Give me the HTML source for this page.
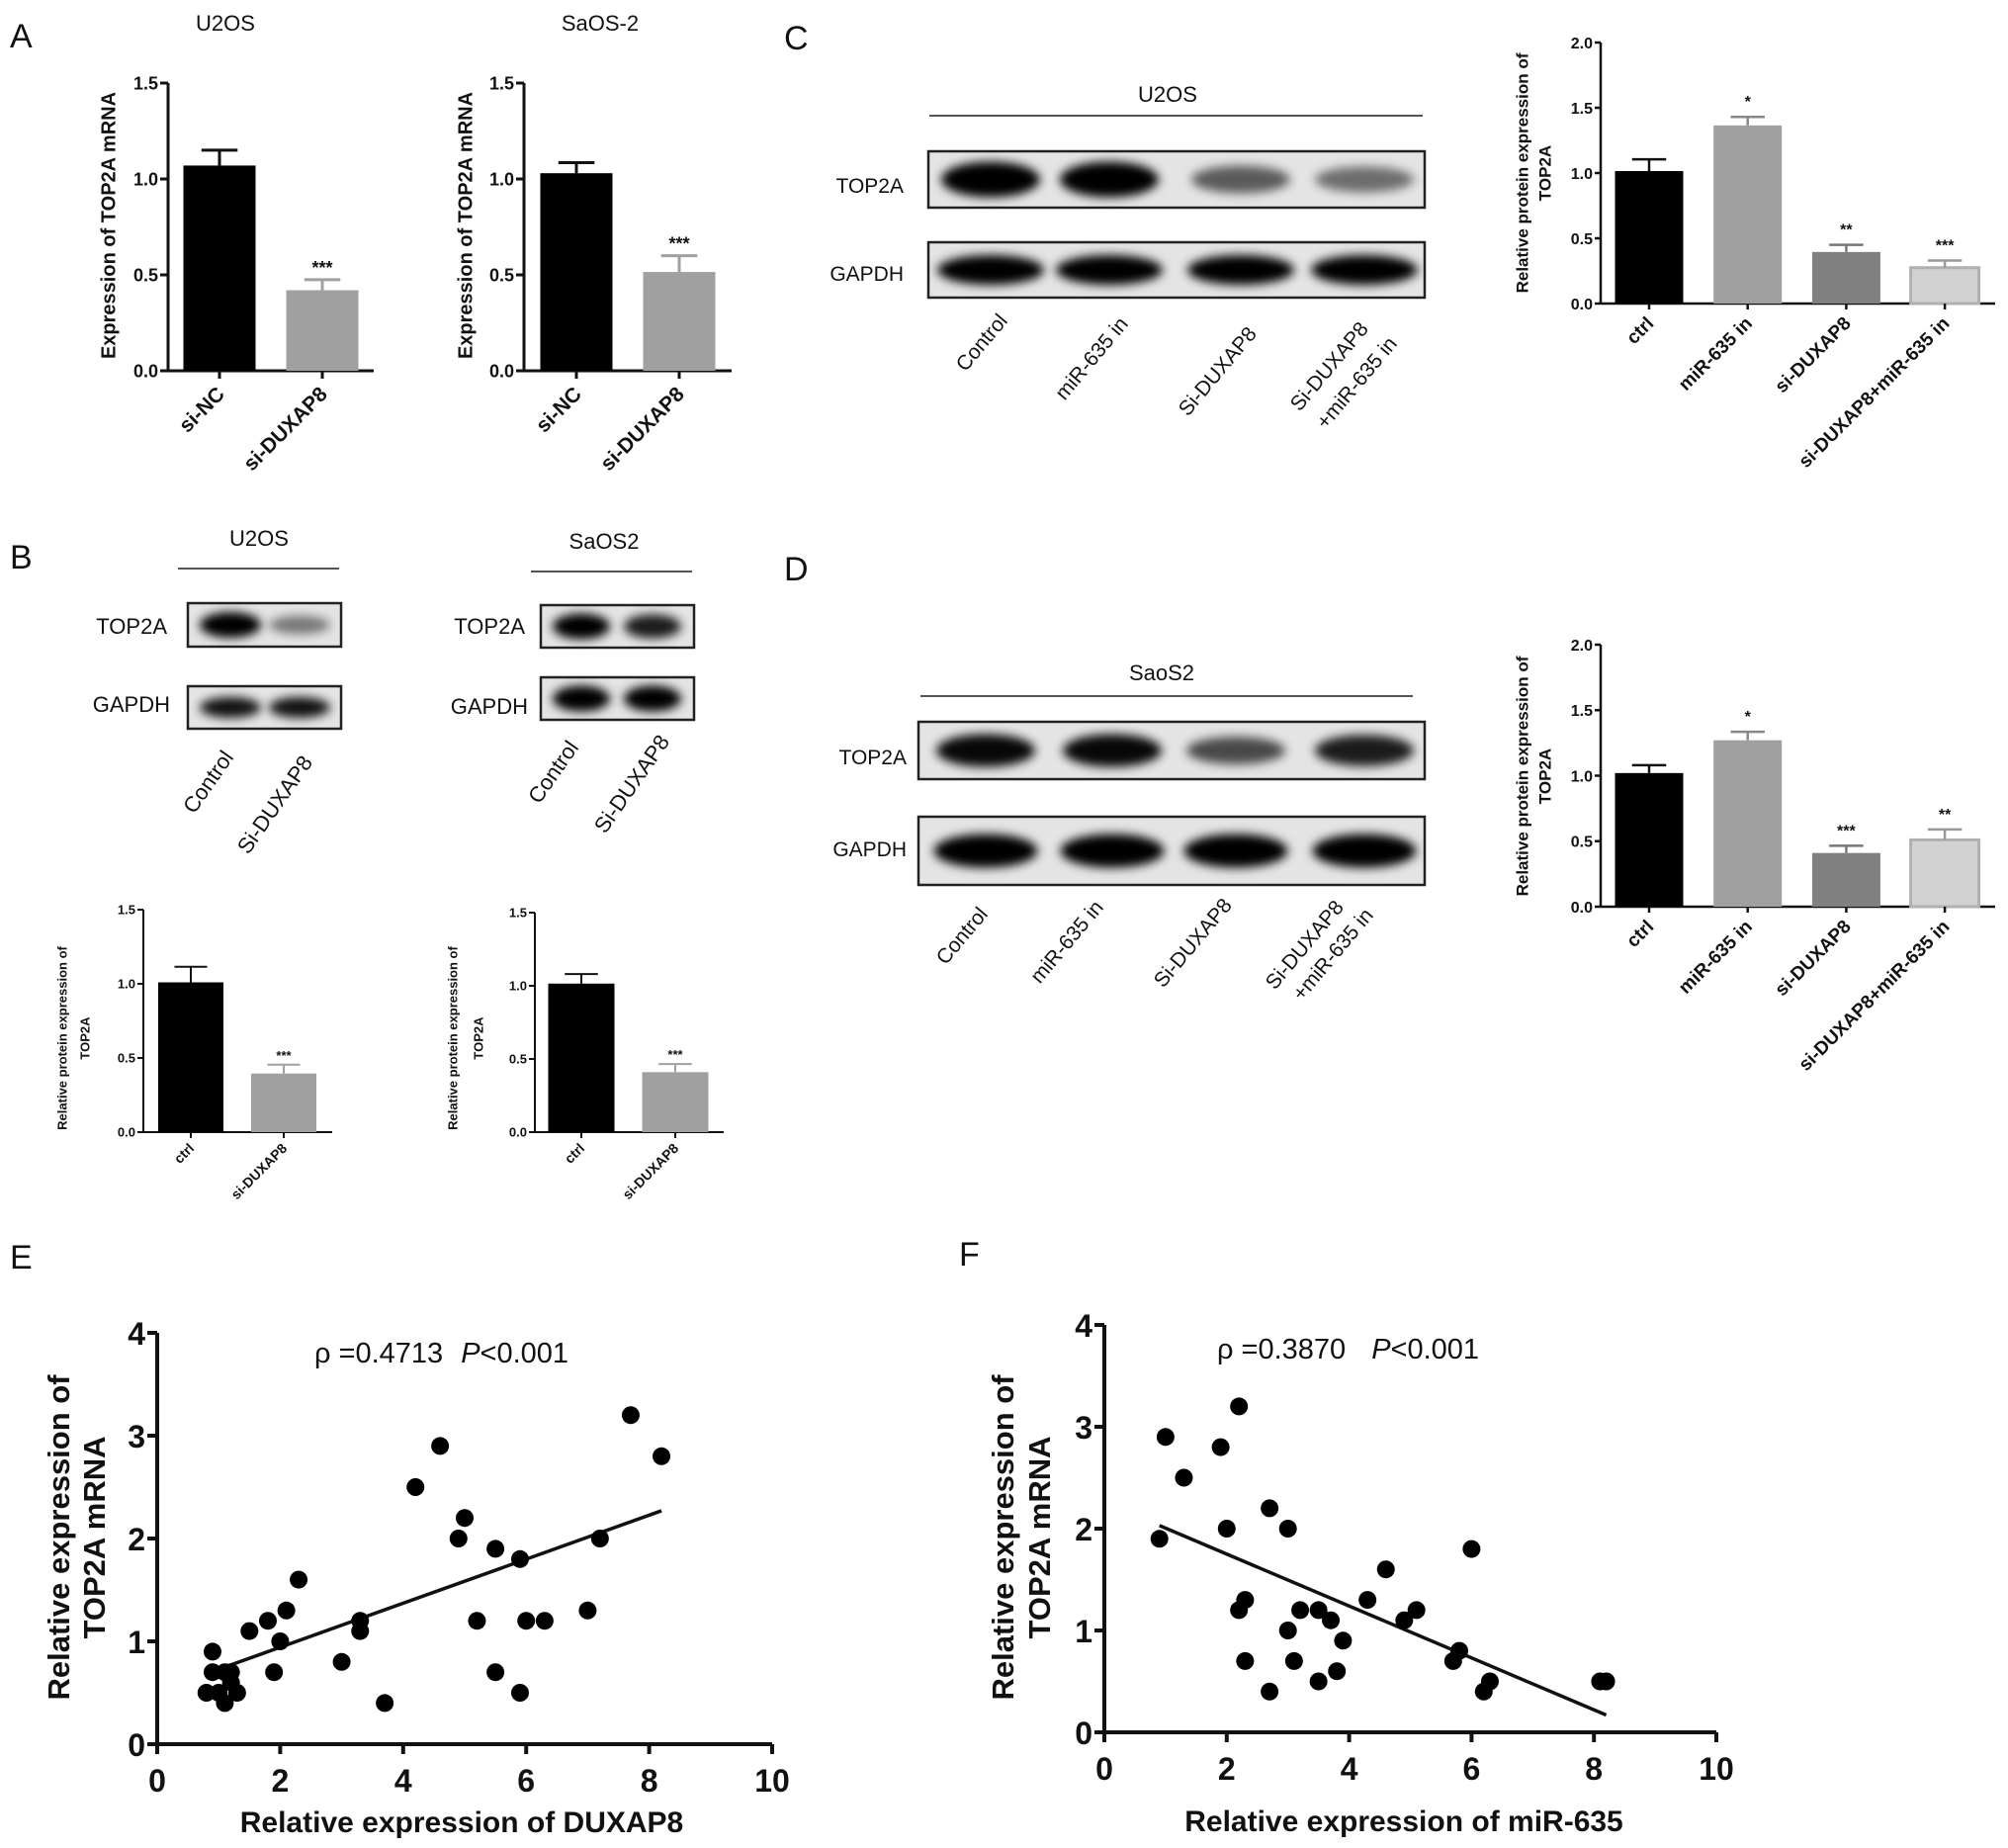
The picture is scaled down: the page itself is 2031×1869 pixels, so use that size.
<!DOCTYPE html>
<html><head><meta charset="utf-8"><style>
html,body{margin:0;padding:0;background:#fff}
svg{display:block}
text{font-family:"Liberation Sans",Arial,sans-serif;fill:#111}
.b{font-weight:bold}
</style></head><body>
<svg id="fig" xmlns="http://www.w3.org/2000/svg" width="2031" height="1869" viewBox="0 0 2031 1869">
<defs>
<filter id="bl" x="-30%" y="-60%" width="160%" height="220%"><feGaussianBlur stdDeviation="5"/></filter>
</defs>
<text x="10" y="48" font-size="34">A</text>
<text x="10" y="575" font-size="34">B</text>
<text x="793" y="50" font-size="34">C</text>
<text x="793" y="587" font-size="34">D</text>
<text x="10" y="1283" font-size="34">E</text>
<text x="970" y="1280" font-size="34">F</text>
<text x="228" y="31" font-size="22" text-anchor="middle">U2OS</text>
<text x="607" y="31" font-size="22" text-anchor="middle">SaOS-2</text>
<g id="root"></g>
</svg>
<script>
// ---- Panel A data ----
const aCats = ["si-NC", "si-DUXAP8"];
const a1Vals = [1.07, 0.42];
const a1Errs = [0.08, 0.055];
const a1Stars = ["", "***"];
const a2Vals = [1.03, 0.515];
const a2Errs = [0.055, 0.085];
const a2Stars = ["", "***"];
const aTicks = [0, 0.5, 1.0, 1.5];
// ---- Panel B data ----
const bCats = ["ctrl", "si-DUXAP8"];
const b1Vals = [1.01, 0.395];
const b1Errs = [0.105, 0.06];
const b2Vals = [1.015, 0.41];
const b2Errs = [0.065, 0.055];
const bStars = ["", "***"];
// ---- Panel C/D data ----
const cdCats = ["ctrl", "miR-635 in", "si-DUXAP8", "si-DUXAP8+miR-635 in"];
const cVals = [1.015, 1.365, 0.395, 0.275];
const cErrs = [0.09, 0.065, 0.055, 0.055];
const cStars = ["", "*", "**", "***"];
const dVals = [1.02, 1.27, 0.41, 0.51];
const dErrs = [0.06, 0.065, 0.055, 0.08];
const dStars = ["", "*", "***", "**"];
const cdTicks = [0, 0.5, 1.0, 1.5, 2.0];
// ---- Blot data (band intensity 0..1) ----
const blotB1Top = [1.0, 0.35];
const blotB1Gapdh = [0.9, 0.9];
const blotB2Top = [1.0, 0.85];
const blotB2Gapdh = [1.0, 1.0];
const blotCTop = [1.0, 1.0, 0.5, 0.4];
const blotCGapdh = [1.0, 1.0, 1.0, 1.0];
const blotDTop = [0.95, 0.95, 0.6, 0.85];
const blotDGapdh = [1.0, 1.0, 1.0, 1.0];
// ---- Panel E data ----
const eX = [0.8,0.9,0.9,1.0,1.1,1.1,1.2,1.2,1.3,1.5,1.8,1.9,2.0,2.1,2.3,3.0,3.3,3.3,3.7,4.2,4.6,4.9,5.0,5.2,5.5,5.5,5.9,5.9,6.0,6.3,7.0,7.2,7.7,8.2];
const eY = [0.5,0.9,0.7,0.5,0.4,0.7,0.7,0.6,0.5,1.1,1.2,0.7,1.0,1.3,1.6,0.8,1.2,1.1,0.4,2.5,2.9,2.0,2.2,1.2,1.9,0.7,1.8,0.5,1.2,1.2,1.3,2.0,3.2,2.8];
const eFitX = [1.1, 8.2];
const eFitY = [0.75, 2.27];
// ---- Panel F data ----
const fX = [0.9,1.0,1.3,1.9,2.0,2.2,2.2,2.3,2.3,2.7,2.7,3.0,3.0,3.1,3.2,3.5,3.5,3.7,3.8,3.9,4.3,4.6,4.9,5.1,5.7,5.8,6.0,6.2,6.3,8.1,8.2];
const fY = [1.9,2.9,2.5,2.8,2.0,3.2,1.2,1.3,0.7,2.2,0.4,2.0,1.0,0.7,1.2,1.2,0.5,1.1,0.6,0.9,1.3,1.6,1.1,1.2,0.7,0.8,1.8,0.4,0.5,0.5,0.5];
const fFitX = [0.9, 8.2];
const fFitY = [2.03, 0.17];
const scTicksX = [0, 2, 4, 6, 8, 10];
const scTicksY = [0, 1, 2, 3, 4];

const NS = "http://www.w3.org/2000/svg";
const root = document.getElementById("root");
function mk(tag, attrs, parent, txt) {
  const el = document.createElementNS(NS, tag);
  for (const k in attrs) el.setAttribute(k, attrs[k]);
  if (txt !== undefined) el.textContent = txt;
  (parent || root).appendChild(el);
  return el;
}

function barChart(c) {
  const g = mk("g", {});
  
  
  const ys = v => c.y0 - (v / c.max) * (c.y0 - c.yTop);
  const xs = i => c.first + i * c.step;
  const ya = mk("line", {x1: c.ax, y1: c.yTop, x2: c.ax, y2: c.y0 + 1, stroke: "#111", "stroke-width": c.sw}, g);
  
  
  const xa = mk("line", {x1: c.ax, y1: c.y0, x2: c.end, y2: c.y0, stroke: "#111", "stroke-width": c.sw}, g);
  
  
  c.ticks.forEach(t => {
    const y = ys(t);
    mk("line", {x1: c.ax - c.tl, y1: y, x2: c.ax, y2: y, stroke: "#111", "stroke-width": c.sw}, g);
    const tx = mk("text", {x: c.ax - c.tl - 2, y: y + c.tf * 0.36, "font-size": c.tf, "text-anchor": "end", class: "b"}, g, t.toFixed(1));
    
    
  });
  c.vals.forEach((v, i) => {
    const cx = xs(i);
    const top = ys(v);
    const r = mk("rect", {x: cx - c.bw / 2, y: top, width: c.bw, height: c.y0 - top, fill: c.colors[i], stroke: c.strokes ? c.strokes[i] : "none", "stroke-width": 3}, g);
    
    
    const et = ys(v + c.errs[i]);
    const ec = c.colors[i] === "#000" ? "#111" : c.ecol[i];
    mk("line", {x1: cx, y1: top, x2: cx, y2: et, stroke: ec, "stroke-width": c.sw}, g);
    mk("line", {x1: cx - c.bw * 0.25, y1: et, x2: cx + c.bw * 0.25, y2: et, stroke: ec, "stroke-width": c.sw}, g);
    mk("line", {x1: cx, y1: c.y0, x2: cx, y2: c.y0 + c.tl, stroke: "#111", "stroke-width": c.sw}, g);
    if (c.stars[i]) {
      const s = mk("text", {x: cx, y: et - c.starGap, "font-size": c.sf, "text-anchor": "middle", class: "b", fill: "#333"}, g, c.stars[i]);
      
      
    }
    const lx = cx + c.lf * 0.3, ly = c.y0 + c.tl + c.lf * 0.8;
    const lab = mk("text", {x: lx, y: ly, "font-size": c.lf, "text-anchor": "end", class: "b", transform: `rotate(-45 ${lx} ${ly})`}, g, c.cats[i]);
    
    
  });
  c.ylab.forEach((t, k) => {
    const x = c.ylx[k], y = c.yly;
    const yl = mk("text", {x: x, y: y, "font-size": c.yf, "text-anchor": "middle", class: "b", transform: `rotate(-90 ${x} ${y})`, "dominant-baseline": "middle"}, g, t);
    
    
  });
}

const BLK = "#000", G1 = "#a0a0a0", G2 = "#808080", G3 = "#d2d2d2";
barChart({name: "chart-a-u2os", ax: 170, y0: 375, yTop: 84, max: 1.5, ticks: aTicks, first: 222, step: 104, bw: 73, end: 378,
  vals: a1Vals, errs: a1Errs, stars: a1Stars, cats: aCats, colors: [BLK, G1], ecol: ["#111", G1], sw: 3, tl: 8, tf: 18, sf: 18, starGap: 6, lf: 21,
  ylab: ["Expression of TOP2A mRNA"], ylx: [111], yly: 228, yf: 20});
barChart({name: "chart-a-saos2", ax: 530, y0: 375, yTop: 84, max: 1.5, ticks: aTicks, first: 583, step: 104, bw: 73, end: 740,
  vals: a2Vals, errs: a2Errs, stars: a2Stars, cats: aCats, colors: [BLK, G1], ecol: ["#111", G1], sw: 3, tl: 8, tf: 18, sf: 18, starGap: 6, lf: 21,
  ylab: ["Expression of TOP2A mRNA"], ylx: [472], yly: 228, yf: 20});
barChart({name: "chart-b-u2os", ax: 145, y0: 1145, yTop: 920, max: 1.5, ticks: aTicks, first: 193, step: 94, bw: 66, end: 336,
  vals: b1Vals, errs: b1Errs, stars: bStars, cats: bCats, colors: [BLK, G1], ecol: ["#111", G1], sw: 2, tl: 6, tf: 13, sf: 13, starGap: 5, lf: 14,
  ylab: ["Relative protein expression of", "TOP2A"], ylx: [64, 87], yly: 1050, yf: 13});
barChart({name: "chart-b-saos2", ax: 541, y0: 1145, yTop: 923, max: 1.5, ticks: aTicks, first: 588, step: 95, bw: 67, end: 732,
  vals: b2Vals, errs: b2Errs, stars: bStars, cats: bCats, colors: [BLK, G1], ecol: ["#111", G1], sw: 2, tl: 6, tf: 13, sf: 13, starGap: 5, lf: 14,
  ylab: ["Relative protein expression of", "TOP2A"], ylx: [459, 485], yly: 1050, yf: 13});
barChart({name: "chart-c-u2os", ax: 1619, y0: 307, yTop: 43, max: 2, ticks: cdTicks, first: 1668, step: 99.7, bw: 69, end: 2018,
  vals: cVals, errs: cErrs, stars: cStars, cats: cdCats, colors: [BLK, G1, G2, G3], strokes: ["none", "none", "none", "#b0b0b0"], ecol: ["#111", "#888", "#777", "#999"], sw: 2.5, tl: 6, tf: 16, sf: 16, starGap: 10, lf: 19,
  ylab: ["Relative protein expression of", "TOP2A"], ylx: [1541, 1564], yly: 175, yf: 17});
barChart({name: "chart-d-saos2", ax: 1619, y0: 917, yTop: 652, max: 2, ticks: cdTicks, first: 1668, step: 99.7, bw: 69, end: 2018,
  vals: dVals, errs: dErrs, stars: dStars, cats: cdCats, colors: [BLK, G1, G2, G3], strokes: ["none", "none", "none", "#b0b0b0"], ecol: ["#111", "#888", "#777", "#999"], sw: 2.5, tl: 6, tf: 16, sf: 16, starGap: 10, lf: 19,
  ylab: ["Relative protein expression of", "TOP2A"], ylx: [1541, 1564], yly: 785, yf: 17});

// ---- Western blots ----
function blot(name, x0, y0, w, h, centers, bandW, inten, bandH) {
  const g = mk("g", {});
  
  
  mk("rect", {x: x0, y: y0, width: w, height: h, fill: "#e4e4e4"}, g);
  inten.forEach((v, i) => {
    const e = mk("ellipse", {cx: centers[i], cy: y0 + h * 0.5, rx: bandW / 2, ry: bandH * (0.55 + 0.45 * v) / 2, fill: "#000", opacity: 0.2 + 0.8 * v, filter: "url(#bl)"}, g);
    
    
  });
  mk("rect", {x: x0, y: y0, width: w, height: h, fill: "none", stroke: "#222", "stroke-width": 2.5}, g);
}
function txt(x, y, s, size, anchor, name, rot) {
  const a = {x: x, y: y, "font-size": size, "text-anchor": anchor || "start"};
  if (rot) a.transform = `rotate(${rot} ${x} ${y})`;
  const t = mk("text", a, root, s);
  
  
  return t;
}
function hline(x1, x2, y, name) {
  const l = mk("line", {x1: x1, x2: x2, y1: y, y2: y, stroke: "#555", "stroke-width": 2});
  
  
}
txt(262, 552, "U2OS", 22, "middle", "blot-title-b-u2os"); hline(180, 343, 575, "blot-group-line");
txt(611, 555, "SaOS2", 22, "middle", "blot-title-b-saos2"); hline(537, 700, 578, "blot-group-line");
blot("blot-b-u2os-top2a", 190, 610, 155, 44, [233, 303], 62, blotB1Top, 26);
blot("blot-b-u2os-gapdh", 190, 694, 155, 43, [233, 303], 62, blotB1Gapdh, 22);
blot("blot-b-saos2-top2a", 547, 612, 155, 43, [588, 660], 58, blotB2Top, 26);
blot("blot-b-saos2-gapdh", 547, 685, 155, 43, [588, 660], 58, blotB2Gapdh, 26);
txt(169, 641, "TOP2A", 22, "end", "blot-label-top2a");
txt(172, 720, "GAPDH", 22, "end", "blot-label-gapdh");
txt(531, 641, "TOP2A", 22, "end", "blot-label-top2a");
txt(534, 722, "GAPDH", 22, "end", "blot-label-gapdh");
txt(237, 766, "Control", 22, "end", "lane-label", -55);
txt(317, 771, "Si-DUXAP8", 22, "end", "lane-label", -55);
txt(586, 756, "Control", 22, "end", "lane-label", -55);
txt(678, 750, "Si-DUXAP8", 22, "end", "lane-label", -55);
txt(1181, 103, "U2OS", 22, "middle", "blot-title-c"); hline(940, 1439, 117, "blot-group-line");
blot("blot-c-top2a", 939, 153, 502, 57, [1002, 1122, 1255, 1380], 100, blotCTop, 36);
blot("blot-c-gapdh", 939, 245, 502, 56, [1002, 1122, 1255, 1380], 108, blotCGapdh, 30);
txt(914, 195, "TOP2A", 21, "end", "blot-label-top2a");
txt(914, 284, "GAPDH", 21, "end", "blot-label-gapdh");
const laneC = ["Control", "miR-635 in", "Si-DUXAP8", "Si-DUXAP8"];
[[1020, 325], [1142, 328], [1272, 338], [1385, 333]].forEach((p, i) => txt(p[0], p[1], laneC[i], 21, "end", "lane-label", -50));
txt(1414, 348, "+miR-635 in", 21, "end", "lane-label", -50);
txt(1175, 688, "SaoS2", 22, "middle", "blot-title-d"); hline(931, 1429, 704, "blot-group-line");
blot("blot-d-top2a", 929, 730, 512, 58, [997, 1125, 1250, 1380], 100, blotDTop, 34);
blot("blot-d-gapdh", 929, 826, 512, 69, [997, 1125, 1250, 1380], 105, blotDGapdh, 34);
txt(917, 773, "TOP2A", 21, "end", "blot-label-top2a");
txt(917, 866, "GAPDH", 21, "end", "blot-label-gapdh");
[[1000, 925], [1117, 918], [1247, 916], [1360, 918]].forEach((p, i) => txt(p[0], p[1], laneC[i], 21, "end", "lane-label", -50));
txt(1390, 926, "+miR-635 in", 21, "end", "lane-label", -50);

// ---- Scatter plots ----
function scatter(c) {
  const g = mk("g", {});
  
  
  const xs = v => c.ax + v / 10 * (c.x10 - c.ax);
  const ys = v => c.y0 - v / 4 * (c.y0 - c.y4);
  const ya = mk("line", {x1: c.ax, y1: c.y4, x2: c.ax, y2: c.y0 + 2, stroke: "#111", "stroke-width": 4}, g);
  
  
  const xa = mk("line", {x1: c.ax - 2, y1: c.y0, x2: c.x10, y2: c.y0, stroke: "#111", "stroke-width": 4}, g);
  
  
  scTicksY.forEach(t => {
    const y = ys(t);
    mk("line", {x1: c.ax - 10, y1: y, x2: c.ax, y2: y, stroke: "#111", "stroke-width": 4}, g);
    const l = mk("text", {x: c.ax - 12, y: y + 12, "font-size": 32, "text-anchor": "end", class: "b"}, g, String(t));
    
    
  });
  scTicksX.forEach(t => {
    const x = xs(t);
    mk("line", {x1: x, y1: c.y0, x2: x, y2: c.y0 + 10, stroke: "#111", "stroke-width": 4}, g);
    const l = mk("text", {x: x, y: c.y0 + 48, "font-size": 32, "text-anchor": "middle", class: "b"}, g, String(t));
    
    
  });
  const fl = mk("line", {x1: xs(c.fx[0]), y1: ys(c.fy[0]), x2: xs(c.fx[1]), y2: ys(c.fy[1]), stroke: "#111", "stroke-width": 3.5}, g);
  
  
  c.px.forEach((v, i) => {
    const d = mk("circle", {cx: xs(v), cy: ys(c.py[i]), r: 9, fill: "#000"}, g);
    
    
  });
  const st = mk("text", {x: c.stX, y: c.stY, "font-size": 29}, g);
  
  
  mk("tspan", {}, st, c.rho);
  mk("tspan", {"font-style": "italic", dx: c.gap}, st, "P");
  mk("tspan", {}, st, "<0.001");
  const xl = mk("text", {x: c.xlX, y: c.xlY, "font-size": 30, "text-anchor": "middle", class: "b"}, g, c.xlab);
  
  
  ["Relative expression of", "TOP2A mRNA"].forEach((t, k) => {
    const x = c.ylx[k], y = c.yly;
    const yl = mk("text", {x: x, y: y, "font-size": 31, "text-anchor": "middle", class: "b", "dominant-baseline": "middle", transform: `rotate(-90 ${x} ${y})`}, g, t);
    
    
  });
}
scatter({name: "scatter-e", ax: 159, y0: 1764, y4: 1348, x10: 781, px: eX, py: eY, fx: eFitX, fy: eFitY,
  rho: "\u03c1 =0.4713", gap: 18, stX: 318, stY: 1378, xlab: "Relative expression of DUXAP8", xlX: 467, xlY: 1853, ylx: [62, 98], yly: 1555});
scatter({name: "scatter-f", ax: 1117, y0: 1752, y4: 1340, x10: 1736, px: fX, py: fY, fx: fFitX, fy: fFitY,
  rho: "\u03c1 =0.3870", gap: 26, stX: 1231, stY: 1374, xlab: "Relative expression of miR-635", xlX: 1420, xlY: 1852, ylx: [1017, 1054], yly: 1555});
</script>
</body></html>
